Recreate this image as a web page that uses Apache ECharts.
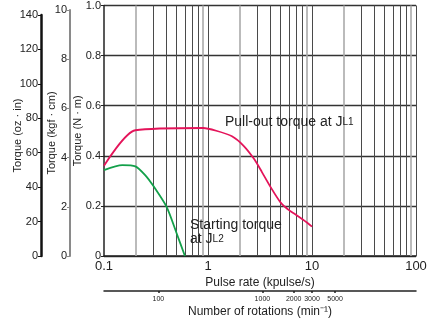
<!DOCTYPE html>
<html><head><meta charset="utf-8">
<script src="https://cdn.jsdelivr.net/npm/echarts@6/dist/echarts.min.js"></script>
<style>html,body{margin:0;padding:0;background:#fff}#c{width:439px;height:324px}</style>
</head><body><div id="c"></div>
<script>
// ---- data ----
const pullOut = [[0.1,0.36],[0.2,0.502],[0.9,0.511],[1.2,0.5],[1.7,0.478],[2.2,0.44],[2.8,0.385],[3.3,0.335],[4.0,0.275],[5.0,0.213],[6.0,0.183],[7.0,0.165],[9.0,0.133],[10,0.117]];
const starting = [[0.1,0.343],[0.15,0.363],[0.2,0.358],[0.25,0.322],[0.3,0.278],[0.4,0.196],[0.5,0.09],[0.6,0]];
const gridLight = [0.2,0.9,2,9,20,90];
const gridDark = [0.3,0.4,0.5,0.6,0.7,0.8,1,3,4,5,6,7,8,10,30,40,50,60,70,80,100];
const rpmTicks = [100,1000,2000,3000,5000];

const FONT = "'Liberation Sans', Arial, sans-serif";
const txt = '#222';

const chart = echarts.init(document.getElementById('c'), null, {renderer:'canvas'});
const markData = gridLight.map(v => ({xAxis: v, lineStyle:{color:'#aaa', width:1.6, type:'solid'}}))
  .concat(gridDark.map(v => ({xAxis: v, lineStyle:{color:'#4a4a4a', width:1, type:'solid'}})));

chart.setOption({
  animation:false,
  textStyle:{fontFamily:FONT},
  grid:[
    {left:104, right:23, top:5, bottom:68, containLabel:false},
    {left:70, width:1, top:10, bottom:68},
    {left:41, width:1, top:15, bottom:68}
  ],
  xAxis:[
    {gridIndex:0, type:'log', logBase:10, min:0.1, max:100,
     axisLine:{lineStyle:{color:'#222', width:1.5}}, axisTick:{show:false},
     splitLine:{show:false}, minorSplitLine:{show:false},
     axisLabel:{color:txt, fontSize:13, margin:4, formatter:v=>String(v)},
     name:'Pulse rate (kpulse/s)', nameLocation:'middle', nameGap:21, nameMoveOverlap:false,
     nameTextStyle:{color:txt, fontSize:12}},
    {gridIndex:0, type:'log', logBase:10, min:30, max:30000, position:'bottom', offset:35,
     axisLine:{onZero:false, lineStyle:{color:'#222', width:1.5}},
     axisTick:{show:true, length:2, customValues:rpmTicks, lineStyle:{color:'#222', width:1.5}},
     splitLine:{show:false},
     axisLabel:{color:txt, fontSize:7, margin:5, customValues:rpmTicks, formatter:v=>String(v)},
     name:'Number of rotations (min⁻¹)', nameLocation:'middle', nameGap:15, nameMoveOverlap:false,
     nameTextStyle:{color:txt, fontSize:12}},
    {gridIndex:1, type:'value', show:false},
    {gridIndex:2, type:'value', show:false}
  ],
  yAxis:[
    {gridIndex:0, type:'value', min:0, max:1, interval:0.2,
     axisLine:{show:true, lineStyle:{color:'#222', width:1.5}},
     axisTick:{show:true, length:3, lineStyle:{color:'#222'}},
     splitLine:{show:true, lineStyle:{color:'#333', width:1.3}},
     axisLabel:{color:txt, fontSize:11, margin:3, formatter:v=> v===0?'0':v.toFixed(1)},
     name:'Torque (N · m)', nameLocation:'middle', nameGap:21, nameRotate:90, nameMoveOverlap:false,
     nameTextStyle:{color:txt, fontSize:11}},
    {gridIndex:1, type:'value', min:0, max:10, interval:2,
     axisLine:{show:true, lineStyle:{color:'#8a8a8a', width:2}},
     axisTick:{show:true, length:3, lineStyle:{color:'#8a8a8a'}},
     splitLine:{show:false},
     axisLabel:{color:txt, fontSize:11, margin:3},
     name:'Torque (kgf · cm)', nameLocation:'middle', nameGap:13, nameRotate:90, nameMoveOverlap:false,
     nameTextStyle:{color:txt, fontSize:11}},
    {gridIndex:2, type:'value', min:0, max:140, interval:20,
     axisLine:{show:true, lineStyle:{color:'#111', width:2.5}},
     axisTick:{show:true, length:3, lineStyle:{color:'#111'}},
     splitLine:{show:false},
     axisLabel:{color:txt, fontSize:11, margin:3},
     name:'Torque (oz · in)', nameLocation:'middle', nameGap:18, nameRotate:90, nameMoveOverlap:false,
     nameTextStyle:{color:txt, fontSize:11}}
  ],
  series:[
    {type:'line', xAxisIndex:0, yAxisIndex:0, data:[[0.1,0]], symbol:'none', silent:true,
     lineStyle:{width:0, opacity:0}, z:1,
     markLine:{silent:true, symbol:['none','none'], label:{show:false}, animation:false,
       data:markData}},
    {type:'line', name:'pullout', xAxisIndex:0, yAxisIndex:0, data:pullOut, symbol:'none', smooth:0.25,
     lineStyle:{color:'#e4145a', width:1.8}, z:5},
    {type:'line', name:'starting', xAxisIndex:0, yAxisIndex:0, data:starting, symbol:'none', smooth:0.25,
     lineStyle:{color:'#13a04a', width:1.8}, z:5}
  ],
  graphic:[
    {type:'text', left:225, top:115, z:10, style:{text:'Pull-out torque at J{s|L1}', fill:txt,
      font:'14px '+FONT, rich:{s:{fontSize:10, fill:txt, fontFamily:FONT}}}},
    {type:'text', left:190, top:218, z:10, style:{text:'Starting torque\nat J{s|L2}', fill:txt,
      font:'14px '+FONT, lineHeight:14, rich:{s:{fontSize:10, fill:txt, fontFamily:FONT, lineHeight:14}}}}
  ]
});
</script></body></html>
